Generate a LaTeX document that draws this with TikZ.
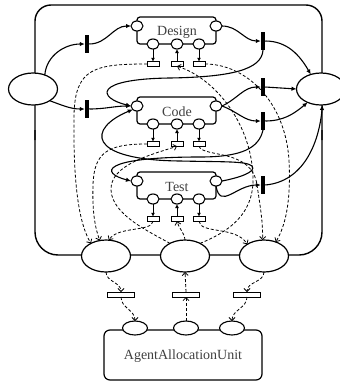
\documentclass[tikz,border=0pt]{standalone}
\usepackage{fontspec}
\setmainfont{Liberation Serif}
\usetikzlibrary{shapes.geometric,arrows.meta}

% one work unit: rounded box, entry/exit ports, three lower ports with their slots
\newcommand\wunit[3]{%
  \node[unit, minimum width=79pt, minimum height=27pt, anchor=north west] (#1box) at (137,#2) {};
  \node[lbl] (#1txt) at (177,{#2+15}) {#3};
  \node[port] (#1in)  at (137,{#2+9}) {};
  \node[port] (#1out) at (216,{#2+9}) {};
  \node[port] (#1a) at (153,{#2+27}) {};
  \node[port] (#1b) at (177,{#2+27}) {};
  \node[port] (#1c) at (199,{#2+27}) {};
  \node[slot] (#1x) at (153,{#2+47}) {};
  \node[slot] (#1y) at (177,{#2+47}) {};
  \node[slot] (#1z) at (199,{#2+47}) {};
  \draw[tick] (#1a) -- (#1x);
  \draw[tick] (#1y) -- (#1b);
  \draw[tick] (#1c) -- (#1z);
}

\begin{document}
\begin{tikzpicture}[x=1pt,y=-1pt,
  every node/.style={inner sep=0pt, outer sep=0pt},
  place/.style={ellipse, draw, fill=white, line width=1.2pt, minimum width=49pt, minimum height=32pt},
  port/.style={ellipse, draw, fill=white, line width=1.1pt, minimum width=12pt, minimum height=10pt},
  apport/.style={ellipse, draw, fill=white, line width=1.1pt, minimum width=25pt, minimum height=14pt},
  bar/.style={rectangle, fill=black, minimum width=4.5pt, minimum height=18pt},
  slot/.style={rectangle, draw, fill=white, line width=1pt, minimum width=12pt, minimum height=4.5pt},
  bslot/.style={slot, minimum width=27pt, minimum height=5pt},
  unit/.style={draw, line width=1.2pt, rounded corners=3pt},
  lbl/.style={font=\fontsize{14}{16}\selectfont, text=black!75},
  arc/.style={line width=1.1pt, -{Latex[length=5pt,width=4.5pt]}},
  darc/.style={line width=0.8pt, dash pattern=on 3pt off 2pt, -{Straight Barb[length=3pt,width=6pt]}},
  tick/.style={line width=1pt, -{Latex[length=4pt,width=4pt]}}
]
\useasboundingbox (0,0) rectangle (340,383);

% outer frame of the process
\draw[line width=1.4pt, rounded corners=16pt] (35,140) |- (322,5) -- (322,140);
\draw[line width=1.4pt, rounded corners=23pt] (35,130) |- (322,255) -- (322,130);

% places on the frame
\node[place] (src) at (33,89) {};
\node[place] (snk) at (321,89) {};
\node[place] (ag1) at (106,256) {};
\node[place] (ag2) at (185,256) {};
\node[place] (ag3) at (264,256) {};

% transitions
\node[bar] (tin1)  at (87,44) {};
\node[bar] (tin2)  at (87,109) {};
\node[bar] (tout1) at (263,41) {};
\node[bar] (tout2) at (263,87) {};
\node[bar] (tout3) at (263,121) {};
\node[bar] (tout4) at (263,185) {};

% work units
\wunit{des}{17}{Design}
\wunit{cod}{97}{Code}
\wunit{tst}{172}{Test}

% agent allocation unit
\node[draw, line width=1.2pt, rounded corners=6pt, minimum width=158pt, minimum height=50pt] (aau) at (183,355) {};
\node[lbl] (aautxt) at (183,356) {AgentAllocationUnit};
\node[apport] (ap1) at (135,328) {};
\node[apport] (ap2) at (186,328) {};
\node[apport] (ap3) at (232,328) {};
\node[bslot] (bs1) at (121,294.5) {};
\node[bslot] (bs2) at (186,294.5) {};
\node[bslot] (bs3) at (247,294.5) {};

% control flow
\draw[arc] (src.50) to[out=85,in=180] (tin1.west);
\draw[arc] (tin1.east) to[out=0,in=180] (desin.west);
\draw[arc] (src.-35) to[out=-20,in=180] (tin2.west);
\draw[arc] (tin2.east) to[out=0,in=180] (codin.west);
\draw[arc] (desout.east) to[out=0,in=180] (tout1.west);
\draw[arc] (tout1.east) to[out=0,in=120] (snk.125);
\draw[arc] (tout1.south) .. controls (262,70) and (230,77) .. (170,78)
  .. controls (92,79) and (98,98) .. (codin.west);
\draw[arc] (codout.east) to[out=25,in=180] (tout2.west);
\draw[arc] (tout2.east) -- (snk.west);
\draw[arc] (codout.east) to[out=-20,in=180] (tout3.west);
\draw[arc] (tout3.east) to[out=0,in=-140] (snk.-135);
\draw[arc] (tout3.south) .. controls (259,148) and (242,157) .. (200,157)
  .. controls (100,157) and (100,173) .. (tstin.west);
\draw[arc] (tstout.east) .. controls (238,178) and (257,172) .. (252,166)
  .. controls (246,161) and (225,162) .. (180,161)
  .. controls (85,160) and (88,128) .. (codin.south west);
\draw[arc] (tstout.south) to[out=-80,in=180,looseness=1.4] (tout4.west);
\draw[arc] (tout4.east) to[out=5,in=-95] (snk.-85);

% agent requests and releases
\draw[darc] (desx.west) .. controls (95,64) and (75,68) .. (74,115)
  .. controls (73,190) and (80,225) .. (ag1.140);
\draw[darc] (codx.west) .. controls (108,144) and (94,152) .. (93,185)
  .. controls (92,215) and (96,230) .. (ag1.112);
\draw[darc] (tstx.south) .. controls (152,232) and (118,226) .. (ag1.80);
\draw[darc] (ag2.40) .. controls (228,232) and (253,215) .. (253,180)
  .. controls (253,125) and (215,78) .. (desy.south);
\draw[darc] (ag2.140) .. controls (150,232) and (112,215) .. (111,190)
  .. controls (110,165) and (150,155) .. (cody.south);
\draw[darc] (ag2.north) to[out=95,in=-75] (tsty.south);
\draw[darc] (desz.east) .. controls (245,64) and (285,100) .. (289,160)
  .. controls (291,200) and (286,225) .. (ag3.50);
\draw[darc] (codz.south) .. controls (203,158) and (252,148) .. (257,185)
  .. controls (260,205) and (263,222) .. (ag3.95);
\draw[darc] (tstz.south) .. controls (200,234) and (236,226) .. (ag3.145);

% links to the agent allocation unit
\draw[darc] (ag1.south) to[out=-90,in=90] (bs1.north);
\draw[darc] (bs1.south) to[out=-90,in=90] (ap1.north);
\draw[darc] (ap2.north) -- (bs2.south);
\draw[darc] (bs2.north) -- (ag2.south);
\draw[darc] (ag3.south) to[out=-90,in=90] (bs3.north);
\draw[darc] (bs3.south) to[out=-90,in=90] (ap3.north);
\end{tikzpicture}
\end{document}
